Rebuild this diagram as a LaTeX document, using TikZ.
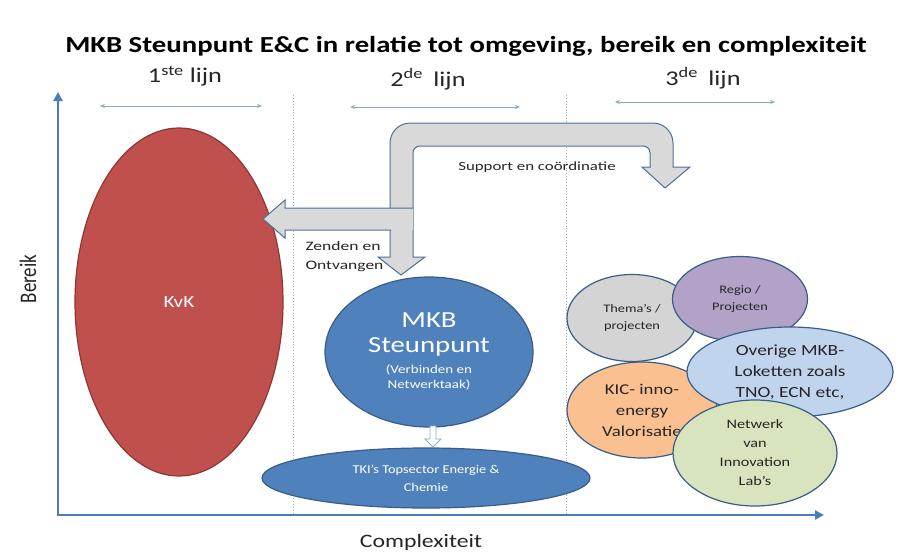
\documentclass[tikz,border=0pt]{standalone}
\usepackage{fontspec}
\setmainfont{Carlito}
\usetikzlibrary{shapes.geometric,arrows.meta}
\definecolor{axisblue}{HTML}{4A7EBB}
\definecolor{kvkred}{HTML}{C0504D}
\definecolor{kvkline}{HTML}{8C3836}
\definecolor{mkbblue}{HTML}{4F81BD}
\definecolor{mkbline}{HTML}{385D8A}
\definecolor{arrowfill}{HTML}{D9D9D9}
\definecolor{arrowline}{HTML}{4F6F9A}
\definecolor{sepline}{HTML}{95B3D7}
\definecolor{hdrarrow}{HTML}{8EA9C8}
\definecolor{themagray}{HTML}{D4D4D4}
\definecolor{regiopurple}{HTML}{B3A2C7}
\definecolor{kicorange}{HTML}{FAC090}
\definecolor{overigeblue}{HTML}{C0D4EE}
\definecolor{netwerkgreen}{HTML}{D7E4BD}
\definecolor{darktext}{HTML}{262626}
\newcommand{\hs}[1]{\scalebox{1.25}[1]{#1}}
\newcommand{\hsw}[1]{\scalebox{1.35}[1]{#1}}
\tikzset{
  blob/.style={ellipse, draw=mkbline, line width=1.2pt, inner sep=0pt, align=center},
  clustertext/.style={text=darktext},
  sepstyle/.style={sepline, dotted, line width=0.9pt},
  hdrarr/.style={hdrarrow, line width=0.8pt, {Stealth[length=5pt,width=4pt]}-{Stealth[length=5pt,width=4pt]}},
  hdrtext/.style={font=\fontsize{21}{24}\selectfont, text=darktext},
  blockarrow/.style={fill=arrowfill, draw=arrowline, line width=1pt, line join=miter},
}
\begin{document}
\begin{tikzpicture}[x=1pt,y=-1pt]
\useasboundingbox (0,0) rectangle (898,555);
\fill[white] (0,0) rectangle (898,555);

% title
\node[font=\bfseries\fontsize{23}{26}\selectfont, text=black] (title) at (466,46) {\hs{MKB Steunpunt E\&C in relatie tot omgeving, bereik en complexiteit}};

% headers
\node[hdrtext] (h1) at (185,76) {\hs{1\textsuperscript{ste} lijn}};
\node[hdrtext] (h2) at (428,79) {\hs{2\textsuperscript{de}\, lijn}};
\node[hdrtext] (h3) at (703,78) {\hs{3\textsuperscript{de}\, lijn}};
\coordinate (a1l) at (100,106); \coordinate (a1r) at (262,106);
\coordinate (a2l) at (350,107); \coordinate (a2r) at (520,107);
\coordinate (a3l) at (615,102); \coordinate (a3r) at (775,102);
\draw[hdrarr] (a1l) -- (a1r);
\draw[hdrarr] (a2l) -- (a2r);
\draw[hdrarr] (a3l) -- (a3r);

% separators
\coordinate (s1t) at (293,95); \coordinate (s1b) at (293,513);
\coordinate (s2t) at (566,95); \coordinate (s2b) at (566,513);
\draw[sepstyle] (s1t) -- (s1b);
\draw[sepstyle] (s2t) -- (s2b);

% axes
\coordinate (ytop) at (58,92);
\coordinate (origin) at (58,515);
\coordinate (xend) at (824,515);
\draw[axisblue, line width=2.6pt, {Triangle[length=9pt,width=9pt]}-{Triangle[length=9pt,width=9pt]}] (ytop) -- (origin) -- (xend);
\node[font=\fontsize{19}{22}\selectfont, text=darktext, rotate=90] (bereik) at (28,279) {\scalebox{1}[1.25]{Bereik}};
\node[font=\fontsize{19}{22}\selectfont, text=darktext] (complex) at (421,542) {\hs{Complexiteit}};

% KvK
\node[blob, draw=kvkline, fill=kvkred, minimum width=208pt, minimum height=348pt, text=white, font=\fontsize{17}{20}\selectfont] (kvk) at (179,302) {\hs{KvK}};

% block arrows
\draw[blockarrow] (401,275) -- (378,257) -- (390,257) -- (390,143)
  .. controls (390,132) and (399,123) .. (410,123)
  -- (653,123) .. controls (664,123) and (673,132) .. (673,143)
  -- (673,167) -- (690,167) -- (665,188) -- (642,167) -- (650,167)
  -- (650,153) .. controls (650,149) and (647,146) .. (643,146)
  -- (420,146) .. controls (416,146) and (413,149) .. (413,153)
  -- (413,257) -- (425,257) -- cycle;
\fill[arrowfill] (413,208) -- (285,208) -- (285,200) -- (263,219) -- (285,238) -- (285,230) -- (413,230) -- cycle;
\draw[arrowline, line width=1pt, line join=miter] (413,208) -- (285,208) -- (285,200) -- (263,219) -- (285,238) -- (285,230) -- (391,230);

\node[font=\fontsize{12.5}{15}\selectfont, text=darktext] (support) at (537,167) {\hsw{Support en coördinatie}};
\node[font=\fontsize{13}{19}\selectfont, text=darktext, align=left, anchor=west] (zenden) at (302,257) {\hsw{Zenden en}\\\hsw{Ontvangen}};

% MKB Steunpunt
\node[blob, fill=mkbblue, minimum width=208pt, minimum height=150pt] (mkb) at (429,352) {};
\node[text=white, align=center, font=\fontsize{23}{25}\selectfont] (mkbname) at (429,334) {\hs{MKB}\\\hs{Steunpunt}};
\node[text=white, align=center, font=\fontsize{12}{15}\selectfont] (mkbtask) at (429,377) {\hs{(Verbinden en}\\\hs{Netwerktaak)}};

% TKI
\node[blob, fill=mkbblue, minimum width=328pt, minimum height=60pt, text=white, font=\fontsize{12}{18}\selectfont] (tki) at (426,478) {\scalebox{1.2}[1]{TKI's Topsector Energie \&}\\\scalebox{1.2}[1]{Chemie}};

% small hollow arrow
\draw[fill=white, draw=hdrarrow, line width=0.8pt] (430,426) -- (436,426) -- (436,439) -- (441,439) -- (433,447) -- (425,439) -- (430,439) -- cycle;

% cluster
\node[blob, fill=themagray, minimum width=130pt, minimum height=87pt, clustertext, font=\fontsize{11.5}{17}\selectfont] (thema) at (632,318) {\hs{Thema's /}\\\hs{projecten}};
\node[blob, fill=regiopurple, minimum width=135pt, minimum height=85pt, clustertext, font=\fontsize{11.5}{17}\selectfont] (regio) at (740,299) {\hs{Regio /}\\\hs{Projecten}};
\node[blob, fill=kicorange, minimum width=150pt, minimum height=96pt, clustertext, font=\fontsize{15}{21}\selectfont] (kic) at (642,410) {\hs{KIC- inno-}\\\hs{energy}\\\hs{Valorisatie}};
\node[blob, fill=overigeblue, minimum width=206pt, minimum height=90pt, clustertext, font=\fontsize{15.5}{21}\selectfont] (overige) at (790,372) {\hs{Overige MKB-}\\\hs{Loketten zoals}\\\hs{TNO, ECN etc,}};
\node[blob, fill=netwerkgreen, minimum width=164pt, minimum height=106pt, clustertext, font=\fontsize{13}{19}\selectfont] (netwerk) at (755,453) {\hs{Netwerk}\\\hs{van}\\\hs{Innovation}\\\hs{Lab's}};
\end{tikzpicture}
\end{document}
